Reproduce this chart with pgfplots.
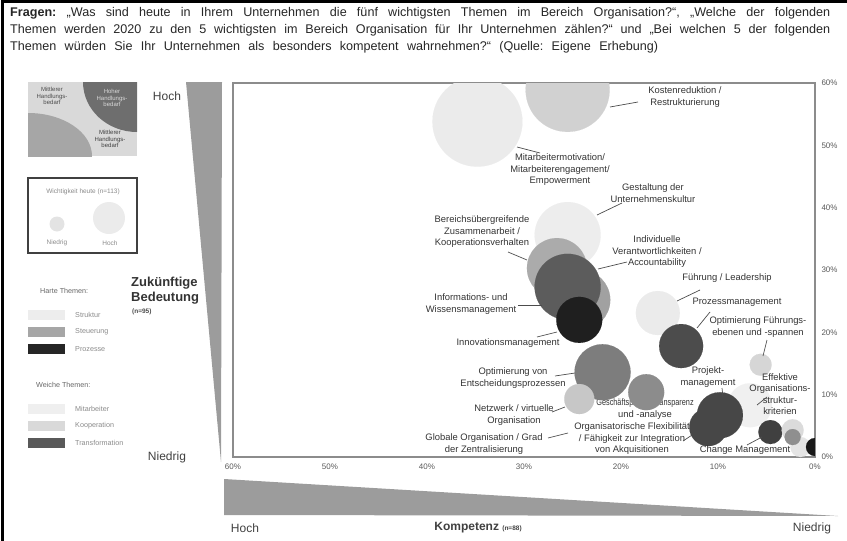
\documentclass[border=0pt]{standalone}
\usepackage{pgfplots}
\pgfplotsset{compat=1.18}
\usepackage{fontspec}
\setmainfont{Liberation Sans}

\definecolor{struktur}{HTML}{EDEDED}
\definecolor{steuerung}{HTML}{A6A6A6}
\definecolor{prozesse}{HTML}{262626}
\definecolor{mitarbeiter}{HTML}{EFEFEF}
\definecolor{kooperation}{HTML}{D9D9D9}
\definecolor{transformation}{HTML}{595959}
\definecolor{wedge}{HTML}{9C9C9C}
\definecolor{labtext}{HTML}{333333}
\definecolor{legtext}{HTML}{8A8A8A}

\newcommand{\labfont}{\fontsize{9.4}{11.5}\selectfont}
\newcommand{\legfont}{\fontsize{7.2}{8.5}\selectfont}

\pgfplotsset{
  bub/.style 2 args={only marks, mark=*, mark size=#1,
    mark options={draw=black!#2, fill=black!#2, line width=0.1pt}},
}

\begin{document}
\frenchspacing
\begin{tikzpicture}[x=1pt,y=-1pt]
\path[use as bounding box] (0,0) rectangle (847,541);

% frame
\draw[line width=3pt] (2.5,541) -- (2.5,1.5) -- (847,1.5);

% question text
\begin{scope}[every node/.style={anchor=base west, inner sep=0, font=\fontsize{12.6}{14}\selectfont, text=black!85}]
\node at (10,16) {\makebox[820pt][s]{\textbf{Fragen:} „Was sind heute in Ihrem Unternehmen die fünf wichtigsten Themen im Bereich Organisation?“, „Welche der folgenden}};
\node at (10,33) {\makebox[820pt][s]{Themen werden 2020 zu den 5 wichtigsten im Bereich Organisation für Ihr Unternehmen zählen?“ und „Bei welchen 5 der folgenden}};
\node at (10,50) {\makebox[648pt][s]{Themen würden Sie Ihr Unternehmen als besonders kompetent wahrnehmen?“ (Quelle: Eigene Erhebung)}};
\end{scope}

% left panel: quadrant scheme
\fill[kooperation] (28,82) rectangle (137,156);
\begin{scope}
\clip (28,82) rectangle (137,156);
\fill[black!57] (137,82) ellipse (54 and 50);
\fill[steuerung] (28,156) ellipse (64 and 43);
\end{scope}
\begin{scope}[every node/.style={align=center, inner sep=0, font=\fontsize{6}{6.8}\selectfont}]
\node[text=black!70] at (52,96) {Mittlerer\\Handlungs-\\bedarf};
\node[text=white!85!black] at (112,98) {Hoher\\Handlungs-\\bedarf};
\node[text=black!75] at (110,139) {Mittlerer\\Handlungs-\\bedarf};
\end{scope}

% left panel: size key
\draw[line width=1.5pt, black!75] (28,178) rectangle (137,253);
\node[font=\fontsize{6.5}{7}\selectfont, text=legtext, inner sep=0] at (83,192) {Wichtigkeit heute (n=113)};
\fill[black!11] (57,224) circle (7.5);
\fill[black!8] (109,218) circle (16);
\node[font=\fontsize{6.5}{7}\selectfont, text=legtext, inner sep=0] at (57,243) {Niedrig};
\node[font=\fontsize{6.5}{7}\selectfont, text=legtext, inner sep=0] at (110,243) {Hoch};

% left panel: colour key
\begin{scope}[every node/.style={anchor=west, inner sep=0, font=\legfont, text=legtext}]
\node[text=black!60] at (40,291) {Harte Themen:};
\fill[struktur] (28,310) rectangle (65,320);   \node at (75,315) {Struktur};
\fill[steuerung] (28,327) rectangle (65,337);  \node at (75,332) {Steuerung};
\fill[prozesse] (28,344) rectangle (65,354);   \node at (75,349) {Prozesse};
\node[text=black!60] at (36,385) {Weiche Themen:};
\fill[mitarbeiter] (28,404) rectangle (65,414);   \node at (75,409) {Mitarbeiter};
\fill[kooperation] (28,421) rectangle (65,431);   \node at (75,426) {Kooperation};
\fill[transformation] (28,438) rectangle (65,448); \node at (75,443) {Transformation};
\end{scope}

% wedges
\fill[wedge] (186,82) -- (222,82) -- (221,462) -- cycle;
\fill[wedge] (224,479) -- (224,515) -- (838,516) -- cycle;

\begin{scope}[every node/.style={inner sep=0, font=\fontsize{12}{14}\selectfont, text=black!75}]
\node at (167,96) {Hoch};
\node at (167,457) {Niedrig};
\node at (245,528) {Hoch};
\node at (812,528) {Niedrig};
\node at (478,528) {\textbf{Kompetenz} {\fontsize{6.5}{7}\selectfont\bfseries(n=88)}};
\end{scope}
\node[anchor=west, inner sep=0, align=left, font=\fontsize{13}{15}\selectfont\bfseries, text=black!80] at (131,291) {Zukünftige\\Bedeutung};
\node[anchor=west, inner sep=0, font=\fontsize{6.5}{7}\selectfont\bfseries, text=black!70] at (132,312) {(n=95)};

% this label lies partly under a bubble
\node[align=center, inner sep=0, font=\labfont, text=labtext] at (645,409) {\scalebox{0.78}[1]{Geschäftsprozesstransparenz}\\und -analyse};

\begin{axis}[
  at={(233pt,-457pt)}, anchor=south west,
  scale only axis, width=582pt, height=374pt,
  xmin=0, xmax=60, ymin=0, ymax=60,
  x dir=reverse,
  clip marker paths=true,
  axis line style={draw=black!45, line width=1.3pt},
  xtick={0,10,...,60}, ytick={0,10,...,60},
  major tick length=0pt,
  yticklabel pos=right,
  /pgf/number format/assume math mode=true,
  xticklabel={\pgfmathprintnumber{\tick}\%},
  yticklabel={\pgfmathprintnumber{\tick}\%},
  tick label style={font=\fontsize{8}{9}\selectfont, text=black!65},
  xticklabel style={yshift=-3pt},
  yticklabel style={xshift=3pt},
]
% Wichtigkeit heute as bubble radius (pt), x = Kompetenz, y = Zukuenftige Bedeutung
\addplot[bub={45}{8}]  coordinates {(34.8,53.8)}; % Mitarbeitermotivation
\addplot[bub={42}{18}] coordinates {(25.5,58.9)}; % Kostenreduktion
\addplot[bub={33}{7}]  coordinates {(25.5,35.6)}; % Unternehmenskultur
\addplot[bub={22}{6}]  coordinates {(6.7,8.3)};   % Organisationsstrukturkriterien
\addplot[bub={22}{8}]  coordinates {(16.2,23.1)}; % Fuehrung
\addplot[bub={30}{33}] coordinates {(26.6,30.3)}; % Bereichsuebergreifend
\addplot[bub={30}{37}] coordinates {(24.2,25.2)}; % Wissensmanagement
\addplot[bub={33}{64}] coordinates {(25.5,27.3)}; % Verantwortlichkeiten
\addplot[bub={23}{88}] coordinates {(24.3,22.0)}; % Innovation
\addplot[bub={28}{51}] coordinates {(21.9,13.6)}; % Entscheidungsprozesse
\addplot[bub={15}{22}] coordinates {(24.3,9.3)};  % Netzwerk
\addplot[bub={18}{45}] coordinates {(17.4,10.4)}; % Geschaeftsprozesse
\addplot[bub={22}{70}] coordinates {(13.8,17.8)}; % Prozessmanagement
\addplot[bub={11}{16}] coordinates {(5.6,14.8)};  % Fuehrungsebenen
\addplot[bub={19}{72}] coordinates {(11.0,4.8)};  % Org. Flexibilitaet
\addplot[bub={23}{72}] coordinates {(9.8,6.7)};   % Projektmanagement
\addplot[bub={12}{75}] coordinates {(4.6,4.0)};   % Change Management
\addplot[bub={10}{10}] coordinates {(1.5,1.6)};
\addplot[bub={11}{14}] coordinates {(2.3,4.3)};
\addplot[bub={8}{44}]  coordinates {(2.3,3.2)};
\addplot[bub={9}{90}]  coordinates {(0,1.6)};
\end{axis}

% bubble labels and leader lines
\begin{scope}[every node/.style={align=center, inner sep=0, font=\labfont, text=labtext}]
\node at (685,97) {Kostenreduktion /\\Restrukturierung};
\node at (560,170) {Mitarbeitermotivation/\\Mitarbeiterengagement/\\Empowerment};
\node at (653,193) {Gestaltung der\\Unternehmenskultur};
\node at (657,252) {Individuelle\\Verantwortlichkeiten /\\Accountability};
\node at (482,232) {Bereichsübergreifende\\Zusammenarbeit /\\Kooperationsverhalten};
\node at (471,304) {Informations- und\\Wissensmanagement};
\node at (508,343) {Innovationsmanagement};
\node at (513,378) {Optimierung von\\Entscheidungsprozessen};
\node at (514,415) {Netzwerk / virtuelle\\Organisation};
\node at (484,444) {Globale Organisation / Grad\\der Zentralisierung};
\node at (632,439) {Organisatorische Flexibilität\\/ Fähigkeit zur Integration\\von Akquisitionen};
\node at (727,278) {Führung / Leadership};
\node at (737,302) {Prozessmanagement};
\node at (758,327) {Optimierung Führungs-\\ebenen und -spannen};
\node at (708,377) {Projekt-\\management};
\node at (780,394) {Effektive\\Organisations-\\struktur-\\kriterien};
\node at (745,450) {Change Management};
\end{scope}
\begin{scope}[draw=black!70, line width=0.7pt]
\draw (610,107) -- (638,102);
\draw (517,147) -- (540,153);
\draw (597,215) -- (622,203);
\draw (598,269) -- (627,262);
\draw (508,252) -- (527,260);
\draw (518,305) -- (542,305);
\draw (537,337) -- (557,332);
\draw (555,376) -- (575,373);
\draw (552,412) -- (565,407);
\draw (548,438) -- (568,433);
\draw (683,441) -- (692,435);
\draw (677,301) -- (700,290);
\draw (697,328) -- (710,312);
\draw (763,356) -- (767,340);
\draw (722,388) -- (723,397);
\draw (757,405) -- (767,397);
\draw (747,445) -- (762,437);
\end{scope}
\end{tikzpicture}
\end{document}
